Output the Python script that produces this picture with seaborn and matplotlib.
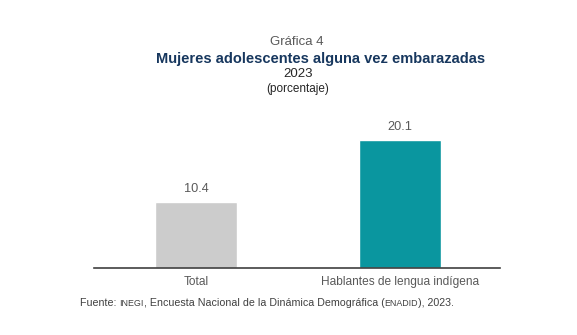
import matplotlib
matplotlib.use("Agg")
import matplotlib.pyplot as plt
import seaborn as sns
import pandas as pd

categorias = ["Total", "Hablantes de lengua indígena"]
porcentajes = [10.4, 20.1]
colores = ["#CCCCCC", "#0A969F"]

sns.set_theme(style="white")
plt.rcParams["font.family"] = ["Liberation Sans", "DejaVu Sans"]

df = pd.DataFrame({"categoria": categorias, "valor": porcentajes})

W, H = 577, 335
fig = plt.figure(figsize=(W / 100, H / 100), dpi=100)
ax = fig.add_axes([94 / W, 1 - 268 / H, 406 / W, 159.25 / H])

sns.barplot(data=df, x="categoria", y="valor", hue="categoria",
            palette=colores, width=0.4, legend=False, ax=ax, saturation=1)

ax.set_xlim(-0.5, 1.49)
ax.set_ylim(0, 25)
ax.set_xlabel("")
ax.set_ylabel("")
ax.set_yticks([])
ax.tick_params(axis="x", length=0, pad=6, labelsize=8.6, labelcolor="#595959")
for s in ["top", "right", "left"]:
    ax.spines[s].set_visible(False)
ax.spines["bottom"].set_color("#404040")
ax.spines["bottom"].set_linewidth(1.2)

for i, v in enumerate(porcentajes):
    ax.annotate(f"{v:.1f}", (i, v), xytext=(0, 5), textcoords="offset points",
                ha="center", va="bottom", fontsize=9.2, color="#595959")

# Encabezado
fig.text(297 / W, 1 - 42 / H, "Gráfica 4", ha="center", va="center",
         fontsize=9.5, color="#595959")
fig.text(321 / W, 1 - 59 / H, "Mujeres adolescentes alguna vez embarazadas",
         ha="center", va="center", fontsize=10.5, fontweight="bold", color="#17375E")
fig.text(298 / W, 1 - 74 / H, "2023", ha="center", va="center",
         fontsize=9.5, color="#262626")
fig.text(298 / W, 1 - 89 / H, "(porcentaje)", ha="center", va="center",
         fontsize=8.5, color="#262626")

# Fuente, con las siglas en versalitas
partes = [("Fuente: ", 7.65), ("INEGI", 6.4),
          (", Encuesta Nacional de la Dinámica Demográfica (", 7.65),
          ("ENADID", 6.4), ("), 2023.", 7.65)]
renderer = fig.canvas.get_renderer()
x_px = 80
y_base = 1 - 306 / H
for texto, tam in partes:
    t = fig.text(x_px / W, y_base, texto, ha="left", va="baseline",
                 fontsize=tam, color="#404040")
    x_px = t.get_window_extent(renderer).x1

fig.savefig("out.png", dpi=100)
